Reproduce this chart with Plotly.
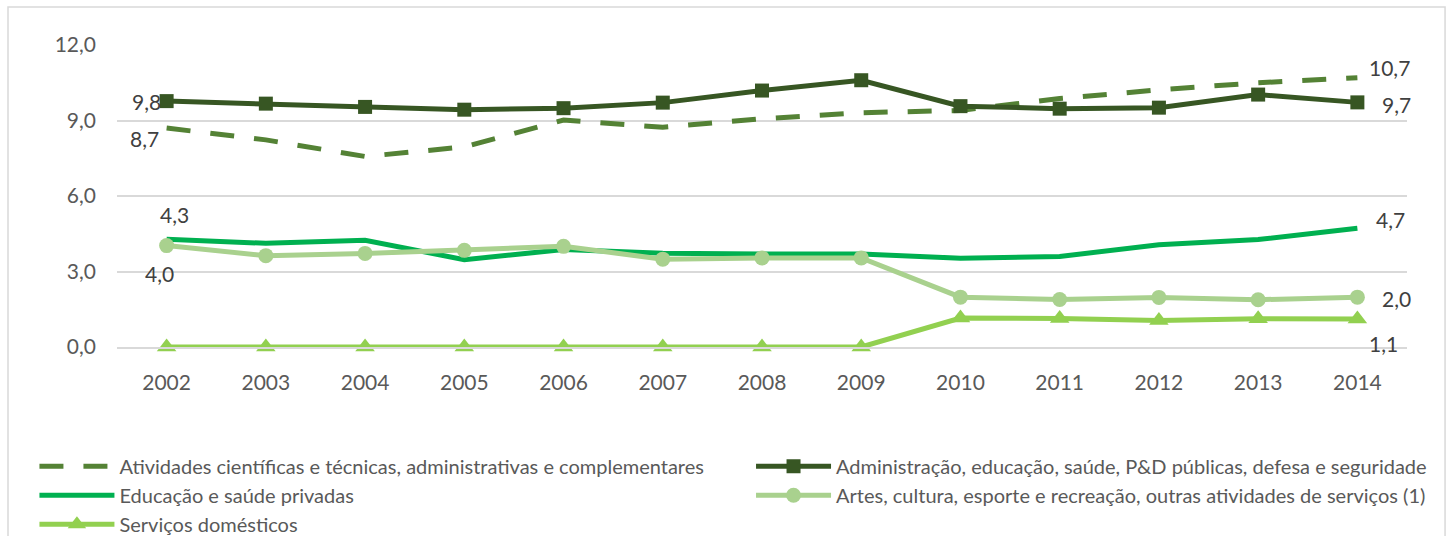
import plotly.graph_objects as go

years = ["2002", "2003", "2004", "2005", "2006", "2007", "2008", "2009", "2010", "2011", "2012", "2013", "2014"]

atividades = [8.70, 8.23, 7.57, 7.95, 9.02, 8.73, 9.07, 9.31, 9.40, 9.87, 10.22, 10.50, 10.70]
administracao = [9.77, 9.67, 9.54, 9.43, 9.49, 9.71, 10.19, 10.60, 9.57, 9.47, 9.51, 10.03, 9.72]
educacao = [4.28, 4.12, 4.24, 3.47, 3.87, 3.73, 3.70, 3.70, 3.53, 3.60, 4.06, 4.27, 4.72]
artes = [4.03, 3.63, 3.72, 3.84, 4.00, 3.49, 3.54, 3.54, 1.98, 1.89, 1.97, 1.88, 1.98]
servicos = [0.0, 0.0, 0.0, 0.0, 0.0, 0.0, 0.0, 0.0, 1.15, 1.13, 1.05, 1.12, 1.11]

names = [
    "Atividades científicas e técnicas, administrativas e complementares",
    "Administração, educação, saúde, P&D públicas, defesa e seguridade",
    "Educação e saúde privadas",
    "Artes, cultura, esporte e recreação, outras atividades de serviços (1)",
    "Serviços domésticos",
]

FONT = "Lato"

# (values, name, color, dash, marker, marker size, legend, first-label offset, last-label offset)
series = [
    (atividades, names[0], "#548235", "24px,20px", None, 0, "legend", (-22, -10), (32, 10)),
    (administracao, names[1], "#375623", "solid", "square", 14, "legend2", (-20, 0), (39, -2)),
    (educacao, names[2], "#00B050", "solid", None, 0, "legend", (8, 25), (33, 9)),
    (artes, names[3], "#A9D18E", "solid", "circle", 15, "legend2", (-7, -28), (39, -1)),
    (servicos, names[4], "#92D050", "solid", "triangle-up", 17, "legend", None, (26, -24)),
]


def fmt(v):
    return f"{v:.1f}".replace(".", ",")


fig = go.Figure()
for i, (vals, name, color, dash, marker, msize, leg, off0, off1) in enumerate(series):
    kw = {}
    if marker is not None:
        kw["marker"] = dict(symbol=marker, size=msize, color=color)
    fig.add_trace(go.Scatter(
        x=years, y=vals, name=name,
        mode="lines" if marker is None else "lines+markers",
        line=dict(color=color, width=5, dash=dash),
        legend=leg, legendgroup=f"g{i}",
        cliponaxis=False, **kw,
    ))
    for idx, off in ((0, off0), (len(vals) - 1, off1)):
        if off is None:
            continue
        fig.add_annotation(
            x=idx, y=vals[idx], xref="x", yref="y",
            text=fmt(vals[idx]), showarrow=False,
            xanchor="center", yanchor="middle",
            xshift=off[0], yshift=off[1],
            font=dict(family=FONT, size=21, color="#404040"),
        )

fig.add_shape(type="rect", xref="paper", yref="paper",
              x0=-0.0845, x1=1.0295, y0=-0.66, y1=1.1258,
              line=dict(color="#D9D9D9", width=1.5), layer="below")

legend_common = dict(
    orientation="v", yanchor="top", xanchor="left", y=-0.3304,
    itemwidth=75, bgcolor="rgba(0,0,0,0)", borderwidth=0,
    font=dict(family=FONT, size=20, color="#595959"),
    tracegroupgap=0, traceorder="normal",
)

fig.update_layout(
    width=1450, height=536,
    margin=dict(l=117, r=43, t=45, b=189, autoexpand=False),
    paper_bgcolor="white", plot_bgcolor="white",
    separators=",.",
    font=dict(family=FONT, color="#595959"),
    showlegend=True,
    legend=dict(x=-0.064, **legend_common),
    legend2=dict(x=0.4915, **legend_common),
    xaxis=dict(
        type="category", range=[-0.5, 12.5], showgrid=False,
        showline=True, linecolor="#D9D9D9", linewidth=1.5,
        ticks="", ticklabelstandoff=16,
        tickfont=dict(family=FONT, size=21, color="#595959"),
        zeroline=False,
    ),
    yaxis=dict(
        range=[0, 12], tickvals=[0, 3, 6, 9, 12], tickformat=".1f",
        showgrid=True, gridcolor="#D9D9D9", gridwidth=1.5,
        zeroline=False, showline=False, ticks="", ticklabelstandoff=20,
        tickfont=dict(family=FONT, size=21, color="#595959"),
    ),
)

fig.write_html("out.html")
